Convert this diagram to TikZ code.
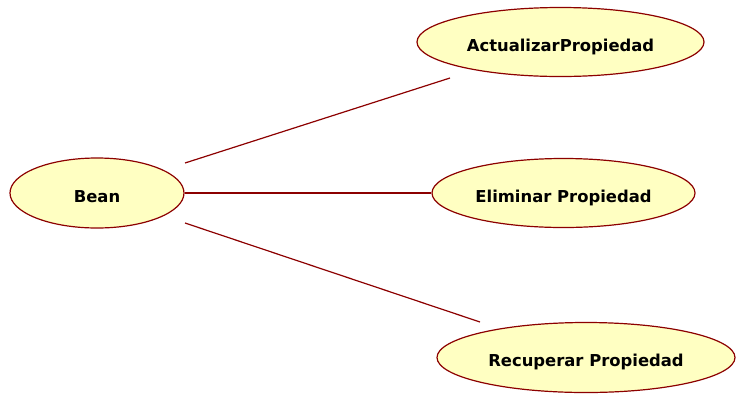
\documentclass[tikz,border=0pt]{standalone}
\usepackage{fontspec}
\setmainfont{DejaVu Sans}
\usetikzlibrary{shapes.geometric}
\definecolor{ucfill}{RGB}{255,255,194}
\definecolor{ucline}{RGB}{140,0,0}
\begin{document}
\begin{tikzpicture}[x=1pt,y=-1pt,
  usecase/.style={ellipse, draw=ucline, fill=ucfill, line width=1.2pt,
    inner sep=0pt, text height=18pt, text depth=0pt,
    font=\bfseries\fontsize{16.4}{18}\selectfont},
  link/.style={draw=ucline, line width=1.2pt}]
\useasboundingbox (0,0) rectangle (741,405);
% use cases
\node[usecase, minimum width=174, minimum height=70] (bean) at (97,193) {Bean};
\node[usecase, minimum width=287, minimum height=69] (act) at (560.5,42) {ActualizarPropiedad};
\node[usecase, minimum width=263, minimum height=69] (elim) at (563.5,193) {Eliminar Propiedad};
\node[usecase, minimum width=298, minimum height=70] (rec) at (586,357.5) {Recuperar Propiedad};
% association end points
\coordinate (b1) at (185,163);
\coordinate (b3) at (185,223);
\coordinate (a1) at (450,78);
\coordinate (r1) at (480,322);
% associations
\draw[link] (b1) -- (a1);
\draw[link] (bean.east) -- (elim.west);
\draw[link] (b3) -- (r1);
\end{tikzpicture}
\end{document}
